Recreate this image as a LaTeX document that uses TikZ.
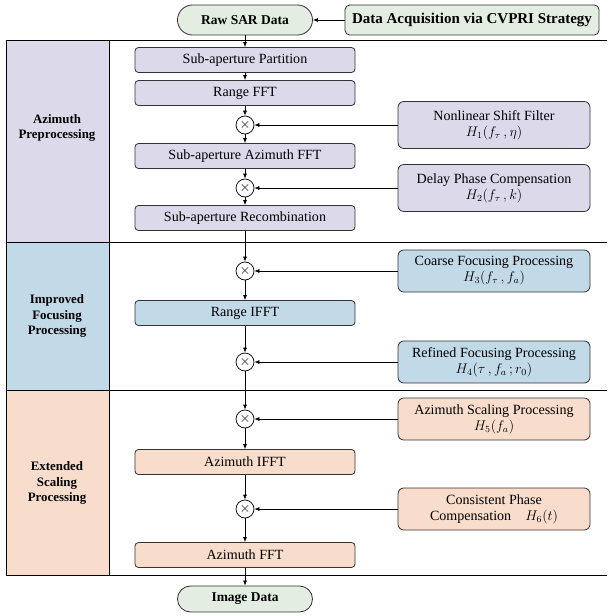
\documentclass[tikz,border=0pt]{standalone}
\usepackage{fontspec}
\setmainfont{Liberation Serif}
\usetikzlibrary{arrows.meta}

\definecolor{azipurple}{HTML}{DCD9EB}
\definecolor{focblue}{HTML}{C2D9E8}
\definecolor{scalpink}{HTML}{F9DDCC}
\definecolor{termgreen}{HTML}{E3EDE1}
\definecolor{edgegray}{HTML}{333333}

\tikzset{
  stepbox/.style={draw=edgegray, line width=0.7pt, rounded corners=3pt,
    minimum width=6.6cm, minimum height=0.75cm, inner sep=0pt},
  filterbox/.style={draw=edgegray, line width=0.7pt, rounded corners=5pt,
    minimum width=5.76cm, minimum height=1.26cm, align=center, inner sep=0pt},
  terminal/.style={draw=edgegray, line width=0.7pt, fill=termgreen,
    minimum width=4.05cm, inner sep=0pt, font=\bfseries\fontsize{11.5}{13}\selectfont},
  mult/.style={draw, circle, line width=0.6pt, fill=white,
    minimum size=0.54cm, inner sep=0pt},
  arr/.style={-{Latex[length=1.5mm,width=1.2mm]}, line width=0.6pt},
  phase/.style={font=\bfseries\fontsize{11}{13}\selectfont, align=center}
}

\begin{document}
\begin{tikzpicture}[font=\fontsize{12}{13.5}\selectfont]
    \useasboundingbox (0,0) rectangle (18.21,-18.48);

    % stage columns
    \fill[azipurple] (0.18,-1.2) rectangle (3.27,-7.26);
    \fill[focblue] (0.18,-7.26) rectangle (3.27,-11.7);
    \fill[scalpink] (0.18,-11.7) rectangle (3.27,-17.25);
    \draw[line width=0.7pt] (18.21,-1.2) -- (0.18,-1.2) -- (0.18,-17.25) -- (18.21,-17.25);
    \draw[line width=0.7pt] (0.18,-7.26) -- (18.21,-7.26);
    \draw[line width=0.7pt] (0.18,-11.7) -- (18.21,-11.7);
    \draw[line width=0.7pt] (3.27,-1.2) -- (3.27,-17.25);

    \node[phase] (ap) at (1.71, -3.84) {Azimuth\\Preprocessing};
    \node[phase] (ifp) at (1.71, -9.48) {Improved\\Focusing\\Processing};
    \node[phase] (esp) at (1.71, -14.49) {Extended\\Scaling\\Processing};

    % input and output
    \node[terminal, minimum height=0.9cm, rounded corners=0.45cm] (raw) at (7.35, -0.6) {Raw SAR Data};
    \node[terminal, minimum width=7.62cm, minimum height=0.9cm, rounded corners=4pt,
      font=\bfseries\fontsize{12.8}{14}\selectfont] (acq) at (14.16, -0.6) {Data Acquisition via CVPRI Strategy};
    \node[terminal, minimum height=0.78cm, rounded corners=0.39cm] (img) at (7.35, -17.97) {Image Data};

    % main chain
    \node[stepbox, fill=azipurple] (part) at (7.35, -1.8) {Sub-aperture Partition};
    \node[stepbox, fill=azipurple] (rfft) at (7.35, -2.79) {Range FFT};
    \node[mult] (m1) at (7.35, -3.75) {$\times$};
    \node[stepbox, fill=azipurple] (aziff) at (7.35, -4.68) {Sub-aperture Azimuth FFT};
    \node[mult] (m2) at (7.35, -5.64) {$\times$};
    \node[stepbox, fill=azipurple] (recomb) at (7.35, -6.54) {Sub-aperture Recombination};
    \node[mult] (m3) at (7.35, -8.13) {$\times$};
    \node[stepbox, fill=focblue] (rifft) at (7.35, -9.39) {Range IFFT};
    \node[mult] (m4) at (7.35, -10.86) {$\times$};
    \node[mult] (m5) at (7.35, -12.57) {$\times$};
    \node[stepbox, fill=scalpink] (aifft) at (7.35, -13.86) {Azimuth IFFT};
    \node[mult] (m6) at (7.35, -15.27) {$\times$};
    \node[stepbox, fill=scalpink] (afft) at (7.35, -16.65) {Azimuth FFT};

    % phase functions
    \node[filterbox, fill=azipurple, minimum height=1.41cm] (h1) at (14.82, -3.75) {Nonlinear Shift Filter\\$H_1(f_\tau\,, \eta)$};
    \node[filterbox, fill=azipurple, minimum height=1.41cm] (h2) at (14.82, -5.64) {Delay Phase Compensation\\$H_2(f_\tau\,, k)$};
    \node[filterbox, fill=focblue] (h3) at (14.82, -8.13) {Coarse Focusing Processing\\$H_3(f_\tau\,, f_a)$};
    \node[filterbox, fill=focblue] (h4) at (14.82, -10.86) {Refined Focusing Processing\\$H_4(\tau\,, f_a\,; r_0)$};
    \node[filterbox, fill=scalpink] (h5) at (14.82, -12.57) {Azimuth Scaling Processing\\$H_5(f_a)$};
    \node[filterbox, fill=scalpink] (h6) at (14.82, -15.27) {Consistent Phase\\Compensation\quad$H_6(t)$};

    \draw[arr] (acq) -- (raw);
    \draw[arr] (raw) -- (part);
    \draw[arr] (part) -- (rfft);
    \draw[arr] (rfft) -- (m1);
    \draw[arr] (m1) -- (aziff);
    \draw[arr] (aziff) -- (m2);
    \draw[arr] (m2) -- (recomb);
    \draw[arr] (recomb) -- (m3);
    \draw[arr] (m3) -- (rifft);
    \draw[arr] (rifft) -- (m4);
    \draw[arr] (m4) -- (m5);
    \draw[arr] (m5) -- (aifft);
    \draw[arr] (aifft) -- (m6);
    \draw[arr] (m6) -- (afft);
    \draw[arr] (afft) -- (img);

    \draw[arr] (h1) -- (m1);
    \draw[arr] (h2) -- (m2);
    \draw[arr] (h3) -- (m3);
    \draw[arr] (h4) -- (m4);
    \draw[arr] (h5) -- (m5);
    \draw[arr] (h6) -- (m6);
\end{tikzpicture}
\end{document}
